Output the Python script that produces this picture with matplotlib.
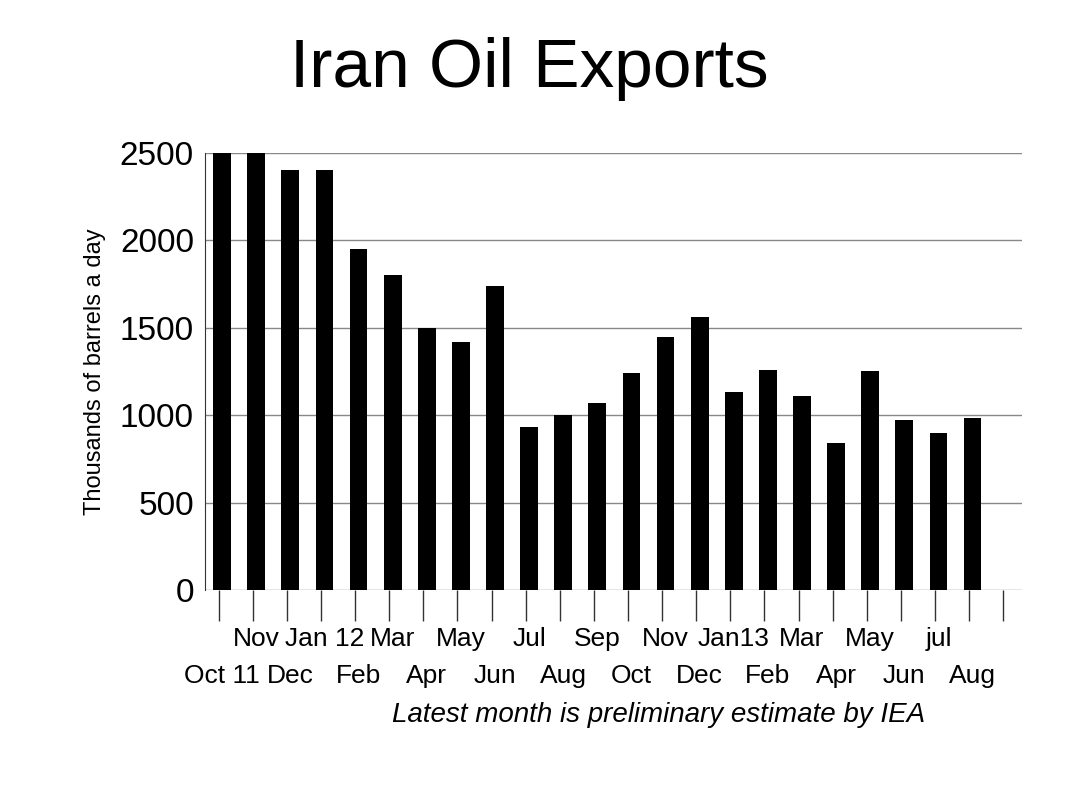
import matplotlib
matplotlib.use("Agg")
import matplotlib.pyplot as plt
import numpy as np

plt.rcParams['font.family'] = ['Liberation Sans', 'DejaVu Sans']

months = ["Oct 11", "Nov", "Dec", "Jan 12", "Feb", "Mar", "Apr", "May", "Jun", "Jul", "Aug",
          "Sep", "Oct", "Nov", "Dec", "Jan13", "Feb", "Mar", "Apr", "May", "Jun", "jul", "Aug"]
exports = [2500, 2500, 2400, 2400, 1950, 1800, 1500, 1420, 1740, 930, 1000,
           1070, 1240, 1450, 1560, 1130, 1260, 1110, 840, 1250, 970, 900, 985]

fig = plt.figure(figsize=(10.65, 7.88), dpi=100)
ax = fig.add_axes([0.1925, 0.2513, 0.7675, 0.5546])

x = np.arange(len(exports))
ax.bar(x, exports, width=0.52, color="black", zorder=3)

ax.set_ylim(0, 2500)
ax.set_xlim(-0.5, 23.46)
ax.set_yticks(np.arange(0, 2501, 500))
ax.tick_params(axis="y", length=0, labelsize=24, pad=8)
ax.yaxis.grid(True, color="#888888", linewidth=1, zorder=0)

# long tick marks below the axis, labels alternate in two rows
ax.set_xticks(np.arange(len(exports) + 1) - 0.1)
ax.set_xticklabels([])
ax.tick_params(axis="x", length=22, width=1, color="#333333", direction="out")
for i, m in enumerate(months):
    y = -280 if i % 2 else -490
    ax.text(i, y, m, ha="center", va="center", fontsize=19)

for s in ["top", "right", "bottom"]:
    ax.spines[s].set_visible(False)
ax.spines["left"].set_color("#333333")

ax.set_ylabel("Thousands of barrels a day", fontsize=17, labelpad=10)
fig.text(0.497, 0.89, "Iran Oil Exports", ha="center", fontsize=50)
ax.text(12.8, -715, "Latest month is preliminary estimate by IEA", ha="center",
        va="center", fontsize=20, style="italic")

fig.savefig("out.png", dpi=100)
